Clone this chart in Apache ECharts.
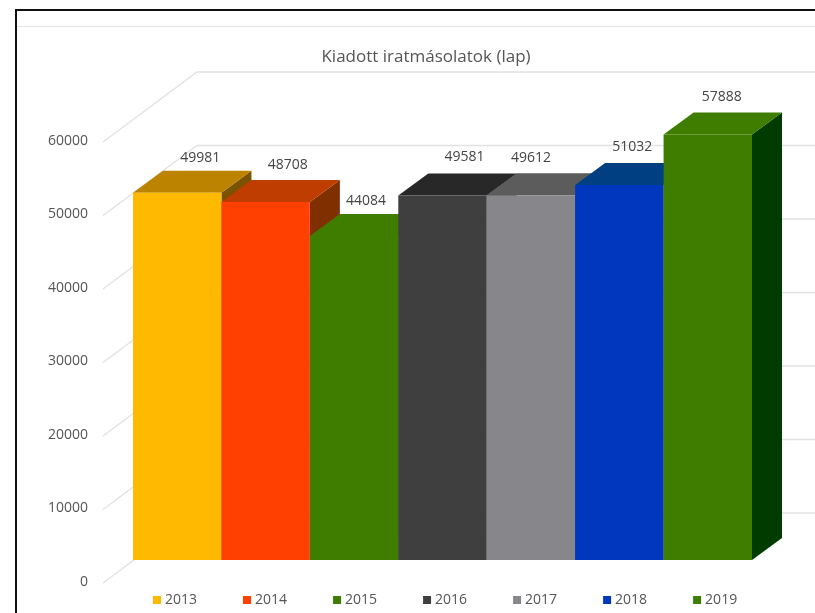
<!DOCTYPE html>
<html><head><meta charset="utf-8">
<style>html,body{margin:0;padding:0;background:#fff}#c{width:815px;height:613px;filter:blur(0.5px)}</style>
<script src="https://cdn.jsdelivr.net/npm/echarts@6/dist/echarts.min.js"></script>
</head><body><div id="c"></div>
<script>
const titleText = 'Kiadott iratmásolatok (lap)';
const years = ['2013','2014','2015','2016','2017','2018','2019'];
const values = [49981,48708,44084,49581,49612,51032,57888];
const yTicks = [0,10000,20000,30000,40000,50000,60000];
const frontColors = ['#FFBA00','#FF4000','#3E7D00','#3F3F3F','#87878B','#0037BE','#3E7D00'];
const topColors   = ['#BC8300','#C03D00','#3E7D00','#282828','#5C5C5C','#003F82','#3E7D00'];
const sideColors  = ['#7A5200','#803000','#2E5E00','#222222','#444444','#002A70','#003B00'];
const labelShift  = [[23,-35],[22,-37],[12,-35],[22,-39],[0,-37],[13,-38],[14,-38]];

const FRONT = [30,-22], DEPTH = [30,-22], WALL = [94,-70];
const FONT = '"Open Sans", sans-serif';

function poly(pts, fill){ return {type:'polygon', shape:{points:pts}, style:{fill}}; }

const barSeries = years.map((y,i)=>({
  name:y, type:'custom', coordinateSystem:'cartesian2d', clip:false, z:3+i,
  encode:{x:0,y:1},
  itemStyle:{color:frontColors[i]},
  data:[[y,values[i]]],
  renderItem(params, api){
    const v = api.value(1);
    const w = api.size([1,0])[0];
    const top = api.coord([api.value(0), v]);
    const base = api.coord([api.value(0), 0]);
    const x0 = top[0]-w/2+FRONT[0], x1 = x0+w;
    const yT = top[1]+FRONT[1], yB = base[1]+FRONT[1];
    const dx = DEPTH[0], dy = DEPTH[1];
    return {type:'group', children:[
      poly([[x1,yT],[x1+dx,yT+dy],[x1+dx,yB+dy],[x1,yB]], sideColors[i]),
      poly([[x0,yT],[x0+dx,yT+dy],[x1+dx,yT+dy],[x1,yT]], topColors[i]),
      {type:'rect', shape:{x:x0,y:yT,width:w,height:yB-yT}, style:{fill:frontColors[i]}},
      {type:'text', z2:50, style:{
        x:(x0+x1)/2+labelShift[i][0], y:yT+labelShift[i][1],
        text:String(values[i]), align:'center', verticalAlign:'middle',
        fill:'#444', font:'14px '+FONT}}
    ]};
  }
}));

const gridSeries = {
  type:'custom', coordinateSystem:'cartesian2d', clip:false, z:1, silent:true,
  encode:{x:0,y:1}, data:yTicks.map(t=>[years[0],t]),
  renderItem(params, api){
    const p = api.coord([api.value(0), api.value(1)]);
    const x = params.coordSys.x;
    const y = p[1]+1;
    return {type:'polyline', shape:{points:[[x,y],[x+WALL[0],y+WALL[1]],[api.getWidth(),y+WALL[1]]]},
      style:{stroke:'#E2E2E2', lineWidth:1.3, fill:null}};
  }
};

const chart = echarts.init(document.getElementById('c'), null, {renderer:'canvas'});
chart.setOption({
  animation:false,
  backgroundColor:'#fff',
  title:{text:titleText, left:421, textAlign:'center', top:44,
    textStyle:{fontFamily:FONT, fontSize:17, fontWeight:'normal', color:'#555'}},
  legend:{data:years, left:148, top:588, itemWidth:8, itemHeight:8, itemGap:46,
    icon:'rect', textStyle:{fontFamily:FONT, fontSize:14, color:'#555', padding:[0,0,0,-1]}},
  grid:{left:103, right:93, top:141, bottom:31},
  xAxis:{type:'category', data:years, show:false},
  yAxis:{type:'value', min:0, max:60000, interval:10000,
    axisLine:{show:false}, axisTick:{show:false}, splitLine:{show:false},
    axisLabel:{margin:15, fontFamily:FONT, fontSize:14, color:'#555', padding:[10,0,0,0], formatter:v=>String(v)}},
  graphic:[
    {type:'rect', z:100, shape:{x:15,y:9,width:800,height:2}, style:{fill:'#111'}},
    {type:'rect', z:100, shape:{x:15,y:9,width:2,height:604}, style:{fill:'#111'}},
    {type:'rect', z:0, shape:{x:17,y:26,width:798,height:1}, style:{fill:'#E4E4E4'}}
  ],
  series:[gridSeries, ...barSeries]
});
</script></body></html>
